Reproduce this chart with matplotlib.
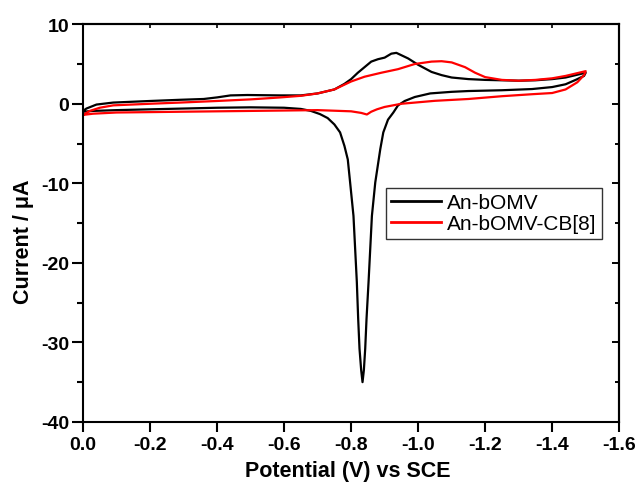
import matplotlib
matplotlib.use("Agg")
import matplotlib.pyplot as plt
from matplotlib.ticker import MultipleLocator

# ---- data ----
black_fwd_v = [0.0, -0.01, -0.04, -0.09, -0.2, -0.29, -0.36, -0.40, -0.44, -0.49, -0.59, -0.65,
               -0.70, -0.75, -0.78, -0.80, -0.82, -0.84, -0.86, -0.88, -0.90, -0.92, -0.935,
               -0.95, -0.97, -1.00, -1.04, -1.07, -1.10, -1.15, -1.2, -1.3, -1.35, -1.40,
               -1.44, -1.47, -1.50]
black_fwd_i = [-0.9, -0.6, -0.1, 0.15, 0.35, 0.5, 0.6, 0.8, 1.05, 1.1, 1.05, 1.05,
               1.3, 1.8, 2.5, 3.1, 3.9, 4.6, 5.3, 5.6, 5.8, 6.3, 6.4,
               6.1, 5.7, 4.9, 4.0, 3.6, 3.3, 3.1, 3.0, 2.9, 2.95, 3.1,
               3.3, 3.6, 3.9]
black_rev_v = [-1.50, -1.495, -1.47, -1.44, -1.40, -1.34, -1.25, -1.15, -1.10, -1.036, -0.99,
               -0.96, -0.94, -0.926, -0.91, -0.896, -0.887, -0.872, -0.862, -0.852, -0.846,
               -0.842, -0.838, -0.834, -0.830, -0.825, -0.821, -0.817, -0.807, -0.797,
               -0.79, -0.78, -0.767, -0.75, -0.73, -0.707, -0.68, -0.65, -0.60,
               -0.5, -0.4, -0.3, -0.2, -0.1, -0.03, 0.0]
black_rev_i = [3.9, 3.5, 3.0, 2.45, 2.1, 1.85, 1.7, 1.6, 1.5, 1.3, 0.85,
               0.35, -0.2, -1.1, -2.0, -3.6, -5.7, -9.9, -14.1, -22.4, -27.0,
               -30.8, -33.5, -35.0, -33.5, -30.8, -27.0, -22.4, -14.1, -9.9,
               -7.0, -5.3, -3.6, -2.6, -1.8, -1.3, -0.9, -0.65, -0.5,
               -0.45, -0.5, -0.6, -0.7, -0.8, -0.9, -1.0]

red_fwd_v = [0.0, -0.02, -0.05, -0.09, -0.2, -0.29, -0.4, -0.5, -0.59, -0.65, -0.70, -0.75,
             -0.80, -0.84, -0.89, -0.94, -0.99, -1.04, -1.07, -1.10, -1.14, -1.17, -1.20,
             -1.25, -1.30, -1.35, -1.40, -1.44, -1.47, -1.50]
red_fwd_i = [-1.4, -0.9, -0.5, -0.2, 0.0, 0.15, 0.35, 0.55, 0.8, 1.0, 1.3, 1.8,
             2.8, 3.4, 3.9, 4.35, 5.0, 5.3, 5.35, 5.2, 4.6, 3.9, 3.35,
             3.0, 2.9, 3.0, 3.2, 3.5, 3.8, 4.1]
red_rev_v = [-1.50, -1.495, -1.475, -1.44, -1.40, -1.34, -1.25, -1.15, -1.05, -0.95, -0.90,
             -0.877, -0.86, -0.847, -0.83, -0.80, -0.70, -0.60, -0.50, -0.3, -0.1, -0.03, 0.0]
red_rev_i = [4.1, 3.6, 2.7, 1.8, 1.35, 1.2, 0.95, 0.6, 0.37, 0.0, -0.4,
             -0.7, -1.0, -1.35, -1.15, -0.95, -0.8, -0.85, -0.9, -1.0, -1.1, -1.25, -1.4]

labels = ["An-bOMV", "An-bOMV-CB[8]"]
colors = ["black", "red"]
x_ticks = [0.0, -0.2, -0.4, -0.6, -0.8, -1.0, -1.2, -1.4, -1.6]
y_ticks = [-40, -30, -20, -10, 0, 10]

plt.rcParams['font.family'] = ['Liberation Sans', 'DejaVu Sans']
plt.rcParams['axes.unicode_minus'] = False

fig = plt.figure(figsize=(6.39, 4.85), dpi=100)
ax = fig.add_axes([0.130, 0.128, 0.839, 0.820])

ax.plot(black_fwd_v + black_rev_v, black_fwd_i + black_rev_i, color=colors[0], lw=1.6,
        label=labels[0], solid_joinstyle='round')
ax.plot(red_fwd_v + red_rev_v, red_fwd_i + red_rev_i, color=colors[1], lw=1.6,
        label=labels[1], solid_joinstyle='round')

ax.set_xlim(0.0, -1.6)
ax.set_ylim(-40, 10)
ax.set_xticks(x_ticks)
ax.set_xticklabels([f"{t:.1f}" for t in x_ticks])
ax.set_yticks(y_ticks)
ax.yaxis.set_minor_locator(MultipleLocator(5))

for sp in ax.spines.values():
    sp.set_linewidth(1.5)

ax.tick_params(axis='x', which='major', direction='out', length=7, width=1.5,
               labelsize=14, pad=3)
ax.tick_params(axis='y', which='major', direction='out', length=8, width=1.5,
               labelsize=14, pad=2)
ax.tick_params(axis='y', which='minor', direction='out', length=4, width=1.5)
for lab in ax.get_xticklabels() + ax.get_yticklabels():
    lab.set_fontweight('bold')

top = ax.secondary_xaxis('top')
top.set_xticks(x_ticks)
top.tick_params(direction='in', length=3, width=1.2)
top.set_xticklabels([])
right = ax.secondary_yaxis('right')
right.set_yticks(y_ticks)
right.yaxis.set_minor_locator(MultipleLocator(5))
right.tick_params(which='major', direction='in', length=5, width=1.4)
right.tick_params(which='minor', direction='in', length=3, width=1.4)
right.set_yticklabels([])
right.spines['right'].set_linewidth(1.5)
top.spines['top'].set_linewidth(1.5)

ax.set_xlabel("Potential (V) vs SCE", fontsize=15.5, fontweight='bold')
ax.set_ylabel("Current / \u03bcA", fontsize=15.5, fontweight='bold')
ax.xaxis.set_label_coords(0.493, -0.097)
ax.yaxis.set_label_coords(-0.092, 0.455)

leg = ax.legend(loc='upper left', bbox_to_anchor=(0.565, 0.588), fontsize=15,
                frameon=True, fancybox=False, edgecolor='black', handlelength=2.4,
                handletextpad=0.3, borderpad=0.25, labelspacing=0.1, borderaxespad=0)
leg.get_frame().set_linewidth(1.0)
for line in leg.get_lines():
    line.set_linewidth(2.0)

fig.savefig("out.png", dpi=100)
